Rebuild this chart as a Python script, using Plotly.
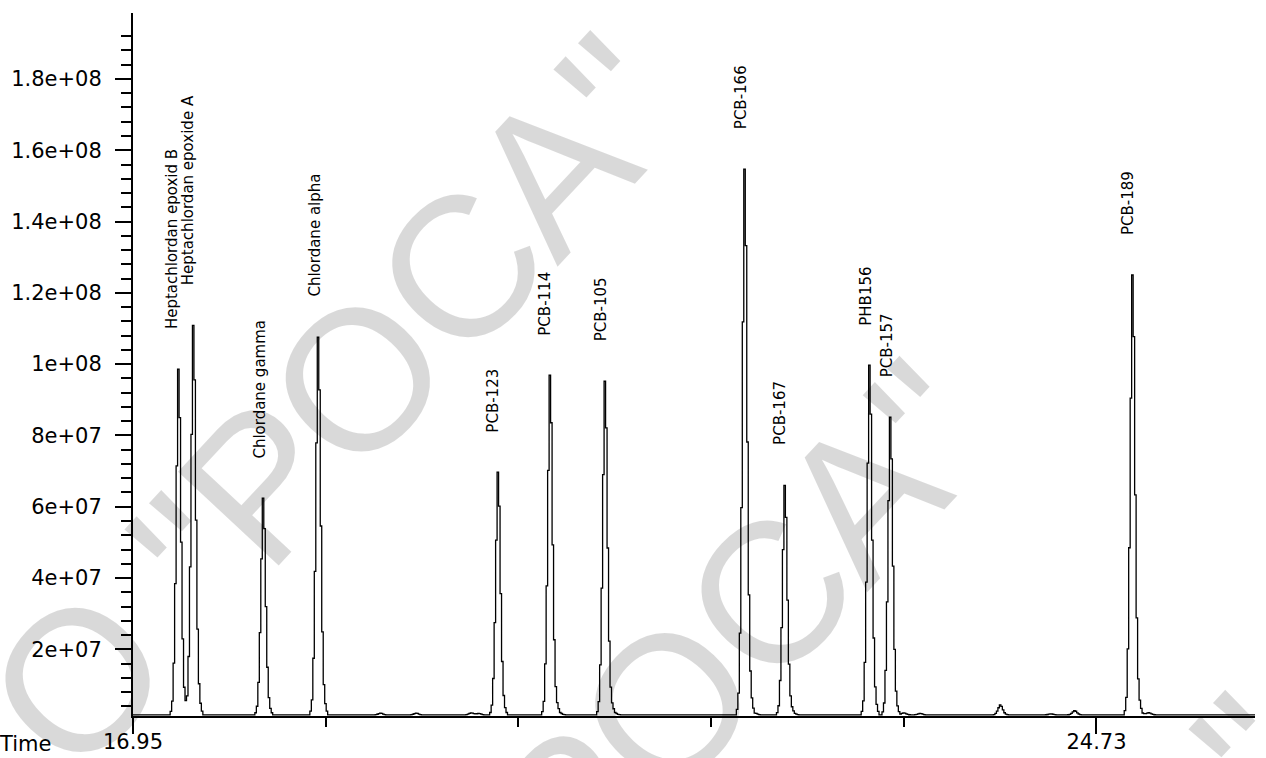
import numpy as np
import plotly.graph_objects as go

# ---------------- data ----------------
peak_names = ["Heptachlordan epoxid B", "Heptachlordan epoxide A", "Chlordane gamma",
              "Chlordane alpha", "PCB-123", "PCB-114", "PCB-105", "PCB-166", "PCB-167",
              "PHB156", "PCB-157", "PCB-189"]
peak_times = [17.305, 17.434, 17.999, 18.444, 19.885, 20.305, 20.753, 21.884, 22.203,
              22.893, 23.063, 25.009]
peak_heights = [9.86e7, 1.109e8, 6.24e7, 1.076e8, 6.97e7, 9.69e7, 9.52e7, 1.547e8, 6.6e7,
                9.97e7, 8.51e7, 1.25e8]

# small unlabelled baseline bumps
minor_times = [18.94, 19.23, 19.67, 19.74, 20.38, 20.83, 21.96, 22.28, 23.16, 23.30,
               23.95, 24.35, 24.55, 25.09, 25.14]
minor_heights = [2.1e6, 2.1e6, 2.2e6, 2.0e6, 2.4e6, 2.4e6, 2.1e6, 2.1e6, 2.2e6, 2.0e6,
                 4.4e6, 1.9e6, 2.8e6, 2.2e6, 2.2e6]

# normalised peak profile (sample offset -> relative level)
profile_steps = [-5, -4, -3, -2, -1, 0, 1, 2, 3, 4, 5, 6]
profile_levels = [0.01, 0.04, 0.15, 0.38, 0.72, 1.0, 0.86, 0.5, 0.22, 0.08, 0.03, 0.01]
sample_interval = 0.012   # minutes between detector samples
baseline_level = 1.6e6
time_start, time_end = 16.95, 26.01

y_tick_vals = [2e7, 4e7, 6e7, 8e7, 1e8, 1.2e8, 1.4e8, 1.6e8, 1.8e8]
y_tick_text = ["2e+07", "4e+07", "6e+07", "8e+07", "1e+08", "1.2e+08", "1.4e+08",
               "1.6e+08", "1.8e+08"]
y_minor_vals = [v * 4e6 for v in range(1, 49) if v % 5 != 0]
x_tick_vals = [16.95, 24.73]
x_tick_text = ["16.95", "24.73"]
x_minor_vals = [18.506, 20.062, 21.618, 23.174]

watermark_texts = ['О "РОСА"', 'РОСА"', '"']

# ---------------- build the sampled signal ----------------
t = np.arange(time_start, time_end, sample_interval)
signal = np.full(t.shape, baseline_level)
for t0, h in list(zip(peak_times, peak_heights)) + list(zip(minor_times, minor_heights)):
    i0 = int(round((t0 - time_start) / sample_interval))
    for k, lev in zip(profile_steps, profile_levels):
        j = i0 + k
        if 0 <= j < len(t):
            signal[j] += (h - baseline_level) * lev

fig = go.Figure()
fig.add_trace(go.Scatter(x=t, y=signal, mode="lines", line=dict(color="black", width=1.3, shape="hv"),
                         hoverinfo="skip", showlegend=False))

W, H = 1266, 758
ML, MR, MT, MB = 133, 11, 13, 42
PW, PH = W - ML - MR, H - MT - MB


def px2paper(px, py):
    return (px - ML) / PW, (H - MB - py) / PH


annotations = []
# watermark (semi-transparent so the trace stays black over it); centres in pixels
wm_font = dict(family="Liberation Sans", size=200, color="rgba(0,0,0,0.15)")
for txt, (cx, cy) in zip(watermark_texts, [(335, 404), (740, 626), (1256, 756)]):
    ax_, ay_ = px2paper(cx, cy)
    annotations.append(dict(text=txt, x=ax_, y=ay_, xref="paper", yref="paper",
                            xanchor="center", yanchor="middle", showarrow=False, textangle=-47,
                            font=wm_font))

# peak labels
for name, t0, h in zip(peak_names, peak_times, peak_heights):
    xs = -5 if name.startswith("Heptachlordan") else -3
    annotations.append(dict(text=name, x=t0, y=h, xref="x", yref="y", xanchor="center",
                            yanchor="bottom", showarrow=False, textangle=-90, yshift=38, xshift=xs,
                            font=dict(family="DejaVu Sans", size=15, color="black")))

tx, ty = px2paper(-3, 744)
annotations.append(dict(text="Time", x=tx, y=ty, xref="paper", yref="paper", xanchor="left",
                        yanchor="middle", showarrow=False,
                        font=dict(family="DejaVu Sans", size=21, color="black")))

axis_font = dict(family="DejaVu Sans", size=21, color="black")
fig.update_layout(
    width=W, height=H, margin=dict(l=ML, r=MR, t=MT, b=MB, pad=0, autoexpand=False),
    paper_bgcolor="white", plot_bgcolor="white", showlegend=False,
    annotations=annotations,
    xaxis=dict(range=[time_start, time_end], showgrid=False, zeroline=False, showline=True,
               automargin=False,
               linecolor="black", linewidth=2, ticks="outside", ticklen=16, tickwidth=2,
               tickcolor="black", tickmode="array", tickvals=x_tick_vals, ticktext=x_tick_text,
               tickfont=axis_font, ticklabelstandoff=-10,
               minor=dict(tickmode="array", tickvals=x_minor_vals, ticks="outside", ticklen=9,
                          tickwidth=2, tickcolor="black", showgrid=False)),
    yaxis=dict(range=[1.3e6, 1.985e8], showgrid=False, zeroline=False, showline=True,
               automargin=False,
               linecolor="black", linewidth=2, ticks="outside", ticklen=16, tickwidth=2,
               tickcolor="black", tickmode="array", tickvals=y_tick_vals, ticktext=y_tick_text,
               tickfont=axis_font, ticklabelstandoff=9,
               minor=dict(tickmode="array", tickvals=y_minor_vals, ticks="outside", ticklen=10,
                          tickwidth=2, tickcolor="black", showgrid=False)),
)

fig.write_html("out.html", config={"displayModeBar": False},
               post_script="document.body.style.margin='0';document.body.style.overflow='hidden';")
